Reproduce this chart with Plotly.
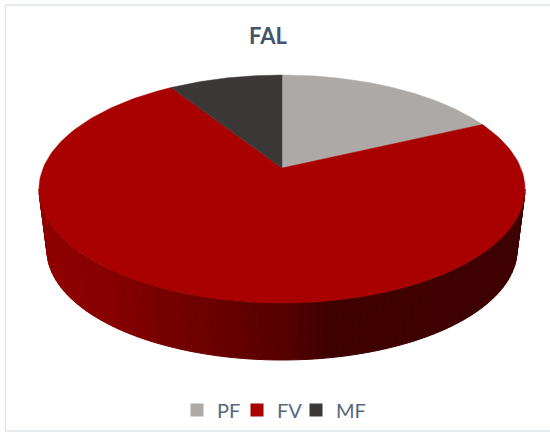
import numpy as np
import plotly.graph_objects as go

categories = ["PF", "FV", "MF"]
values = [18, 73, 9]
colors = ["#ada9a7", "#a90000", "#3c3838"]
title = "FAL"

# top face ellipse and bottom rim ellipse, in axis units
CX, CY, RX, RY = 282.0, 189.0, 243.0, 114.0
BY, BRX, BRY = 250.0, 235.0, 110.0
TILT = 0.184  # perspective shift of the pie centre on the top face
LEGEND_LEFT = [177, 237, 296]  # pixel left edge of each legend block


def project(theta, r=1.0):
    """Angle clockwise from the top of the pie to a point on the tilted face."""
    px, py = r * np.sin(theta), r * np.cos(theta)
    d = 1 + TILT * py
    u = px * np.sqrt(1 - TILT**2) / d
    v = (py + TILT) / d
    return CX + RX * u, CY - RY * v


def side_colour(x):
    stops = [40, 103, 187, 287, 330, 550]
    reds = [0x90, 0x88, 0x72, 0x56, 0x40, 0x3e]
    return f"rgb({int(np.interp(x, stops, reds))},0,0)"


fig = go.Figure()

# wall of the disc: vertical strips along the near rim
n_strips = 90
edges = np.linspace(np.pi, 2 * np.pi, n_strips + 1)
for a0, a1 in zip(edges[:-1], edges[1:]):
    seg = np.linspace(a0, a1, 4)
    xt = CX + RX * np.cos(seg)
    yt = CY - RY * np.sin(seg)
    xb = CX + BRX * np.cos(seg[::-1])
    yb = BY - BRY * np.sin(seg[::-1])
    c = side_colour(xt.mean())
    fig.add_trace(go.Scatter(
        x=np.r_[xt, xb, xt[0]], y=np.r_[yt, yb, yt[0]],
        mode="lines", fill="toself", fillcolor=c,
        line=dict(color=c, width=1), showlegend=False, hoverinfo="skip"))

# top face slices
total = sum(values)
start = 0.0
for name, val, col in zip(categories, values, colors):
    end = start + val / total * 2 * np.pi
    th = np.linspace(start, end, 200)
    ax, ay = project(0.0, 0.0)
    ex, ey = project(th)
    fig.add_trace(go.Scatter(
        x=np.r_[ax, ex, ax], y=np.r_[ay, ey, ay],
        mode="lines", fill="toself", fillcolor=col,
        line=dict(color=col, width=0.5), showlegend=False,
        name=name, hoverinfo="name"))
    start = end

# legend entries, one small legend per category so each sits where it should
legends = {}
for i, (name, col) in enumerate(zip(categories, colors)):
    key = "legend" if i == 0 else f"legend{i + 1}"
    fig.add_trace(go.Scatter(
        x=[None], y=[None], mode="markers", name=name, legend=key, showlegend=True,
        marker=dict(symbol="square", size=13, color=col)))
    legends[key] = dict(
        x=LEGEND_LEFT[i] / 550, xanchor="left", y=1 - 410 / 433, yanchor="middle",
        font=dict(family="Lato", size=20, color="#566880"),
        bgcolor="rgba(0,0,0,0)", itemclick=False, itemdoubleclick=False)

fig.update_layout(
    width=550, height=433,
    margin=dict(l=0, r=0, t=0, b=0),
    paper_bgcolor="white", plot_bgcolor="white",
    title=dict(text=f"<b>{title}</b>", x=268 / 550, xanchor="center",
               y=1 - 36 / 433, yanchor="middle",
               font=dict(family="Lato", size=22, color="#44546a")),
    xaxis=dict(range=[0, 550], visible=False, fixedrange=True),
    yaxis=dict(range=[433, 0], visible=False, fixedrange=True),
    shapes=[dict(type="rect", xref="x", yref="y", x0=5.5, x1=600, y0=5, y1=431,
                 line=dict(color="#e0e5ec", width=1.5), fillcolor="rgba(0,0,0,0)",
                 layer="below")],
    **legends,
)
fig.write_html(
    "out.html",
    config=dict(displayModeBar=False),
    post_script="document.body.style.margin='0';document.documentElement.style.overflow='hidden';",
)
